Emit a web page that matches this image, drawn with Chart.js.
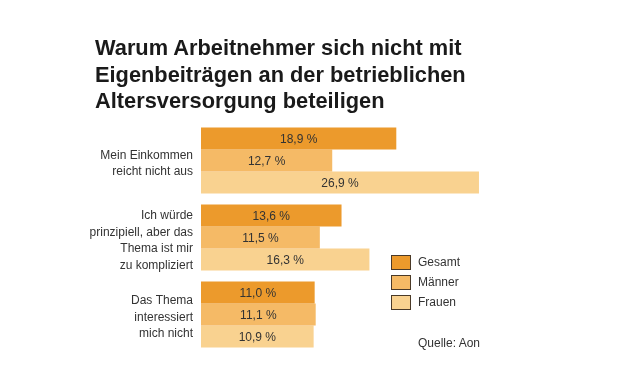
<!DOCTYPE html>
<html><head><meta charset="utf-8">
<script src="https://cdn.jsdelivr.net/npm/chart.js@4/dist/chart.umd.min.js"></script>
<style>
html,body{margin:0;padding:0;background:#fff;}
#wrap{position:relative;width:621px;height:383px;font-family:"Liberation Sans",Arial,sans-serif;color:#222;}
#title{position:absolute;left:95px;top:35px;font-weight:bold;font-size:21.8px;line-height:26.5px;color:#1a1a1a;}
#legend{position:absolute;left:391px;top:252px;font-size:12px;color:#333;}
.li{height:20px;display:flex;align-items:center;}
.sw{width:20px;height:15px;border:1px solid #4a3a28;margin-right:7px;box-sizing:border-box;}
#src{position:absolute;left:418px;top:336px;font-size:12px;color:#333;}
canvas{position:absolute;left:0;top:0;}
</style></head><body>
<div id="wrap">
<canvas id="c" width="621" height="383"></canvas>
<div id="title">Warum Arbeitnehmer sich nicht mit<br>Eigenbeiträgen an der betrieblichen<br>Altersversorgung beteiligen</div>
<div id="legend"></div>
<div id="src">Quelle: Aon</div>
</div>
<script>
const categories = [["Mein Einkommen","reicht nicht aus"],["Ich würde","prinzipiell, aber das","Thema ist mir","zu kompliziert"],["Das Thema","interessiert","mich nicht"]];
const seriesNames = ["Gesamt","Männer","Frauen"];
const gesamt = [18.9, 13.6, 11.0];
const maenner = [12.7, 11.5, 11.1];
const frauen = [26.9, 16.3, 10.9];
const colors = ["#EC9A2C","#F5BA66","#F9D290"];

const lg = document.getElementById('legend');
seriesNames.forEach((n,i)=>{
  const d=document.createElement('div');d.className='li';
  d.innerHTML='<span class="sw" style="background:'+colors[i]+'"></span><span>'+n+'</span>';
  lg.appendChild(d);
});

const valuePlugin = {
  id:'vals',
  afterDatasetsDraw(chart){
    const ctx=chart.ctx;
    ctx.save();
    ctx.font='12px "Liberation Sans", Arial, sans-serif';
    ctx.fillStyle='#333';
    ctx.textAlign='center';ctx.textBaseline='middle';
    chart.data.datasets.forEach((ds,di)=>{
      chart.getDatasetMeta(di).data.forEach((bar,i)=>{
        const v=ds.data[i];
        const x=(bar.x+bar.base)/2;
        ctx.fillText(v.toFixed(1).replace('.',',')+' %', x, bar.y+1);
      });
    });
    ctx.restore();
  }
};

new Chart(document.getElementById('c'),{
  type:'bar',
  data:{labels:categories,datasets:[
    {label:seriesNames[0],data:gesamt,backgroundColor:colors[0]},
    {label:seriesNames[1],data:maenner,backgroundColor:colors[1]},
    {label:seriesNames[2],data:frauen,backgroundColor:colors[2]}
  ]},
  options:{
    indexAxis:'y',responsive:false,animation:false,
    layout:{padding:{top:122,bottom:30,left:0,right:110}},
    datasets:{bar:{categoryPercentage:0.857,barPercentage:1.0}},
    plugins:{legend:{display:false},tooltip:{enabled:false}},
    scales:{
      x:{display:false,min:0,max:30},
      y:{grid:{display:false,drawTicks:false},border:{display:false},
         afterFit(s){s.width=201;},
         ticks:{padding:8,labelOffset:3,color:'#333',font:{family:'"Liberation Sans", Arial, sans-serif',size:12,lineHeight:1.38}}}
    }
  },
  plugins:[valuePlugin]
});
</script>
</body></html>
